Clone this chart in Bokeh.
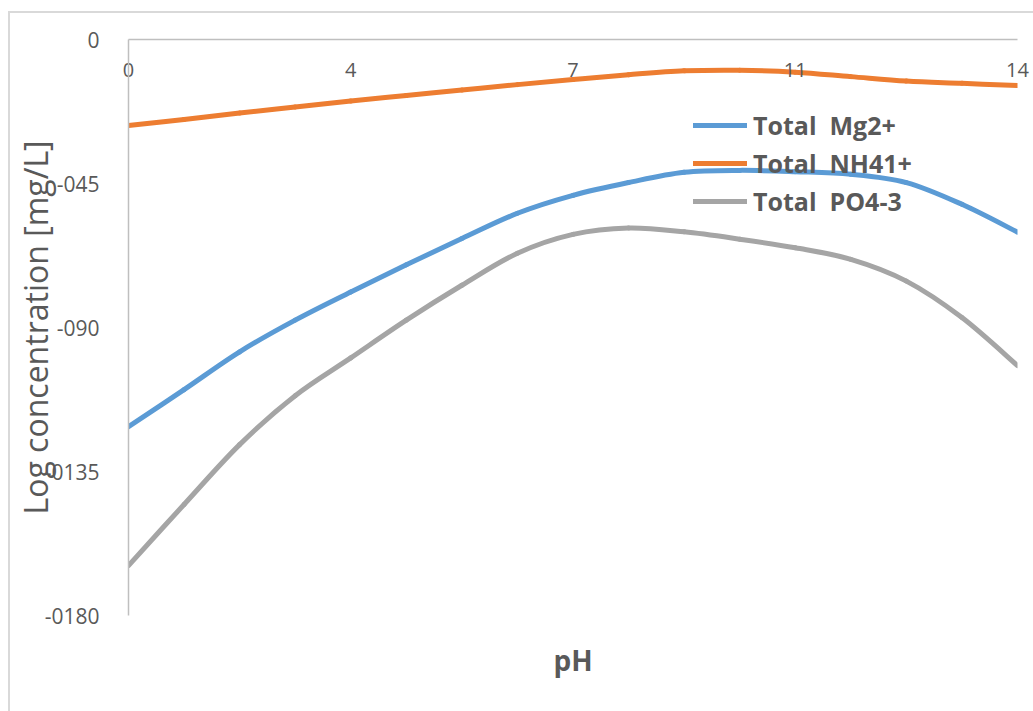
from bokeh.plotting import figure
from bokeh.models import (FixedTicker, LinearAxis, Range1d, Legend, LegendItem,
                          ColumnDataSource)
from bokeh.embed import file_html
from bokeh.resources import INLINE

# Sample positions along the pH axis and the labels shown on it
positions = list(range(17))
ph_tick_pos = [0, 4, 8, 12, 16]
ph_tick_labels = ["0", "4", "7", "11", "14"]

# Log concentration axis ticks
conc_ticks = [0, -45, -90, -135, -180]
conc_tick_labels = ["0", "-045", "-090", "-0135", "-0180"]

# Series values
total_mg = [-121.0, -109.4, -97.6, -87.7, -78.9, -70.4, -62.2, -54.3, -48.7,
            -44.7, -41.5, -40.9, -41.3, -42.1, -44.7, -51.5, -60.2]
total_nh4 = [-26.9, -25.0, -23.0, -21.1, -19.2, -17.5, -15.8, -14.1, -12.5,
             -11.0, -9.8, -9.6, -10.2, -11.6, -13.0, -13.7, -14.4]
total_po4 = [-164.4, -145.3, -126.6, -111.3, -99.5, -87.7, -76.8, -66.8, -60.9,
             -58.9, -60.1, -62.4, -65.1, -68.7, -75.5, -86.9, -101.9]

series_names = ["Total  Mg2+", "Total  NH41+", "Total  PO4-3"]
series_colors = ["#5B9BD5", "#ED7D31", "#A5A5A5"]

FONT = "Open Sans"
TEXT = "#595959"
AXIS = "#BFBFBF"


def smooth_segments(xs, ys):
    """Cubic Bezier pieces through every sample (Catmull-Rom style handles)."""
    n = len(xs)
    d = dict(x0=[], y0=[], x1=[], y1=[], cx0=[], cy0=[], cx1=[], cy1=[])
    for i in range(n - 1):
        a, b = max(i - 1, 0), min(i + 2, n - 1)
        d["x0"].append(xs[i]); d["y0"].append(ys[i])
        d["x1"].append(xs[i + 1]); d["y1"].append(ys[i + 1])
        d["cx0"].append(xs[i] + (xs[i + 1] - xs[a]) / 6)
        d["cy0"].append(ys[i] + (ys[i + 1] - ys[a]) / 6)
        d["cx1"].append(xs[i + 1] - (xs[b] - xs[i]) / 6)
        d["cy1"].append(ys[i + 1] - (ys[b] - ys[i]) / 6)
    return ColumnDataSource(d)


p = figure(width=1033, height=711,
           x_range=Range1d(0, 16), y_range=Range1d(-180, 0),
           x_axis_location="above",
           output_backend="svg", toolbar_location=None,
           min_border_left=128, min_border_right=16,
           min_border_top=39, min_border_bottom=96)
p.outline_line_color = None
p.xgrid.visible = False
p.ygrid.visible = False
p.background_fill_color = "white"
# transparent canvas border so the page background (chart-area frame) shows
p.border_fill_color = None
p.styles = {
    "background": ("linear-gradient(#D9D9D9,#D9D9D9) 8px 11px / 2px 2000px no-repeat, "
                   "linear-gradient(#D9D9D9,#D9D9D9) 8px 11px / 2000px 2px no-repeat, "
                   "white"),
}

# pH axis along the top edge, labels hanging below the line
xa = p.xaxis[0]
xa.ticker = FixedTicker(ticks=ph_tick_pos)
xa.major_label_overrides = dict(zip(ph_tick_pos, ph_tick_labels))
xa.major_label_standoff = -43
xa.major_tick_line_color = None
xa.minor_tick_line_color = None
xa.axis_line_color = AXIS
xa.axis_line_width = 1.5
xa.major_label_text_font = FONT
xa.major_label_text_font_size = "20px"
xa.major_label_text_color = TEXT

ya = p.yaxis[0]
ya.ticker = FixedTicker(ticks=conc_ticks)
ya.major_label_overrides = dict(zip(conc_ticks, conc_tick_labels))
ya.major_label_standoff = 23
ya.major_tick_line_color = None
ya.minor_tick_line_color = None
ya.axis_line_color = AXIS
ya.axis_line_width = 1.5
ya.major_label_text_font = FONT
ya.major_label_text_font_size = "21px"
ya.major_label_text_color = TEXT
ya.axis_label = "Log concentration [mg/L]"
ya.axis_label_standoff = -15
ya.axis_label_text_font = FONT
ya.axis_label_text_font_size = "32px"
ya.axis_label_text_font_style = "normal"
ya.axis_label_text_color = TEXT

# Bottom axis carrying only the "pH" title
ph_axis = LinearAxis(ticker=FixedTicker(ticks=[]), axis_label="pH",
                     axis_line_color=None, major_tick_line_color=None,
                     minor_tick_line_color=None, axis_label_standoff=25,
                     axis_label_text_font=FONT,
                     axis_label_text_font_size="28px",
                     axis_label_text_font_style="bold",
                     axis_label_text_color=TEXT)
p.add_layout(ph_axis, "below")

renderers = []
for vals, color in zip([total_mg, total_nh4, total_po4], series_colors):
    r = p.bezier(x0="x0", y0="y0", x1="x1", y1="y1",
                 cx0="cx0", cy0="cy0", cx1="cx1", cy1="cy1",
                 source=smooth_segments(positions, vals),
                 line_width=5, line_color=color, line_cap="round")
    renderers.append(r)

legend = Legend(items=[LegendItem(label=n, renderers=[r])
                       for n, r in zip(series_names, renderers)],
                location=(565, 397), orientation="vertical",
                padding=0, margin=0, spacing=4,
                glyph_width=54, glyph_height=20, label_standoff=6,
                label_text_font=FONT, label_text_font_size="25px",
                label_text_font_style="bold", label_text_color=TEXT,
                background_fill_alpha=0, border_line_alpha=0)
p.add_layout(legend)

open("out.html", "w").write(file_html(p, INLINE))
